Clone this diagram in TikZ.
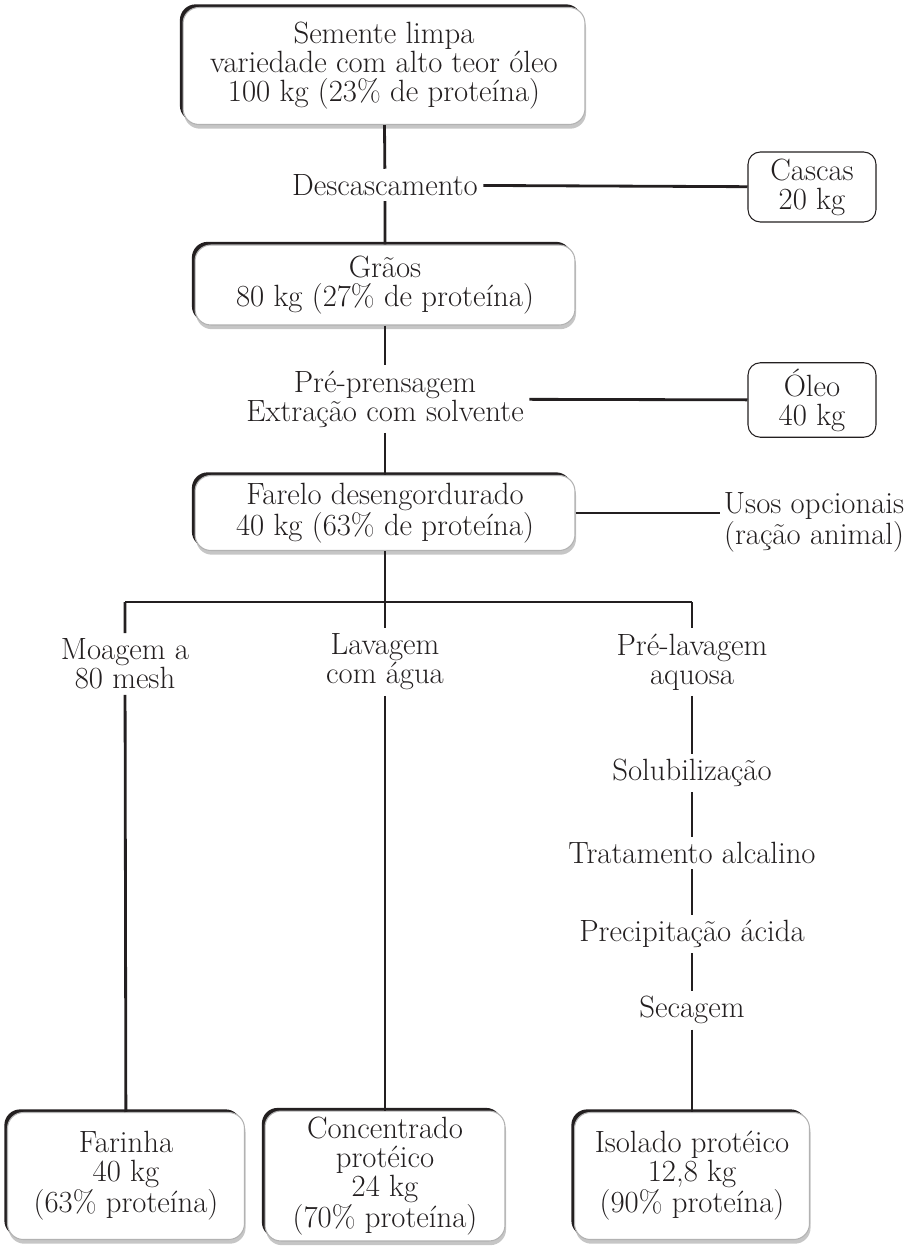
\documentclass[tikz,border=0pt]{standalone}
\usepackage{tikz}
\usepackage{xcolor}
\usetikzlibrary{positioning, shadows}
\definecolor{inkdark}{RGB}{35, 31, 32}

\begin{document}
\begin{tikzpicture}[
  x=0.02cm, y=-0.02cm,
  every node/.style={font=\fontsize{17.5}{16.5}\selectfont, align=center, text=inkdark},
  stagebox/.style={rectangle, rounded corners=9pt, draw=gray!60, line width=0.6pt, fill=white,
    drop shadow={shadow xshift=0.6pt, shadow yshift=-2.4pt, fill=gray!45, opacity=1},
    drop shadow={shadow xshift=-1.8pt, shadow yshift=1.8pt, fill=inkdark, opacity=1}},
  sidebox/.style={rectangle, rounded corners=7pt, draw=inkdark, line width=0.6pt, fill=white,
    minimum width=2.56cm, minimum height=1.4cm},
  stepname/.style={inner sep=3pt},
  link/.style={draw=inkdark, line width=1.6pt}
]
  \useasboundingbox (0,0) rectangle (917,1246);

  % Main stages
  \node[stagebox, minimum width=8.04cm, minimum height=2.34cm] (seed) at (384,66)
    {Semente limpa\\variedade com alto teor óleo\\100 kg (23\% de proteína)};
  \node[stagebox, minimum width=7.6cm, minimum height=1.6cm] (grain) at (385,285)
    {Grãos\\80 kg (27\% de proteína)};
  \node[stagebox, minimum width=7.6cm, minimum height=1.5cm] (meal) at (385,513)
    {Farelo desengordurado\\40 kg (63\% de proteína)};

  % Side products
  \node[sidebox] (hulls) at (812,187) {Cascas\\20 kg};
  \node[sidebox] (oil) at (812,400) {Óleo\\40 kg};
  \node[anchor=east, inner sep=2pt] (uses) at (908,522) {Usos opcionais\\(ração animal)};

  % Process steps
  \node[stepname] (dehull) at (385,185) {Descascamento};
  \node[stepname] (press) at (385,399) {Pré-prensagem\\Extração com solvente};
  \node[stepname] (grind) at (125,664) {Moagem a\\80 mesh};
  \node[stepname] (wash) at (385,662) {Lavagem\\com água};
  \node[stepname] (prewash) at (692,662) {Pré-lavagem\\aquosa};
  \node[stepname] (solub) at (692,773) {Solubilização};
  \node[stepname] (alkali) at (692,853) {Tratamento alcalino};
  \node[stepname] (precip) at (692,934) {Precipitação ácida};
  \node[stepname] (dry) at (692,1010) {Secagem};

  % Final products
  \node[stagebox, minimum width=4.74cm, minimum height=2.54cm] (flour) at (126,1176)
    {Farinha\\40 kg\\(63\% proteína)};
  \node[stagebox, minimum width=4.8cm, minimum height=2.54cm] (conc) at (385,1176)
    {Concentrado\\protéico\\24 kg\\(70\% proteína)};
  \node[stagebox, minimum width=4.7cm, minimum height=2.54cm] (isol) at (692,1176)
    {Isolado protéico\\12,8 kg\\(90\% proteína)};

  % Split points
  \coordinate (splitL) at (125,602);
  \coordinate (splitR) at (692,602);

  % Connections
  \draw[link] (seed) -- (dehull) -- (grain);
  \draw[link] (dehull) -- (hulls);
  \draw[link] (grain) -- (press) -- (meal);
  \draw[link] (press) -- (oil);
  \draw[link] (meal.east) -- (uses.west |- meal.east);
  \draw[link] (meal) -- (wash) -- (conc);
  \draw[link] (splitL) -- (splitR);
  \draw[link] (splitL) -- (grind) -- (flour);
  \draw[link] (splitR) -- (prewash) -- (solub) -- (alkali) -- (precip) -- (dry) -- (isol);
\end{tikzpicture}
\end{document}
